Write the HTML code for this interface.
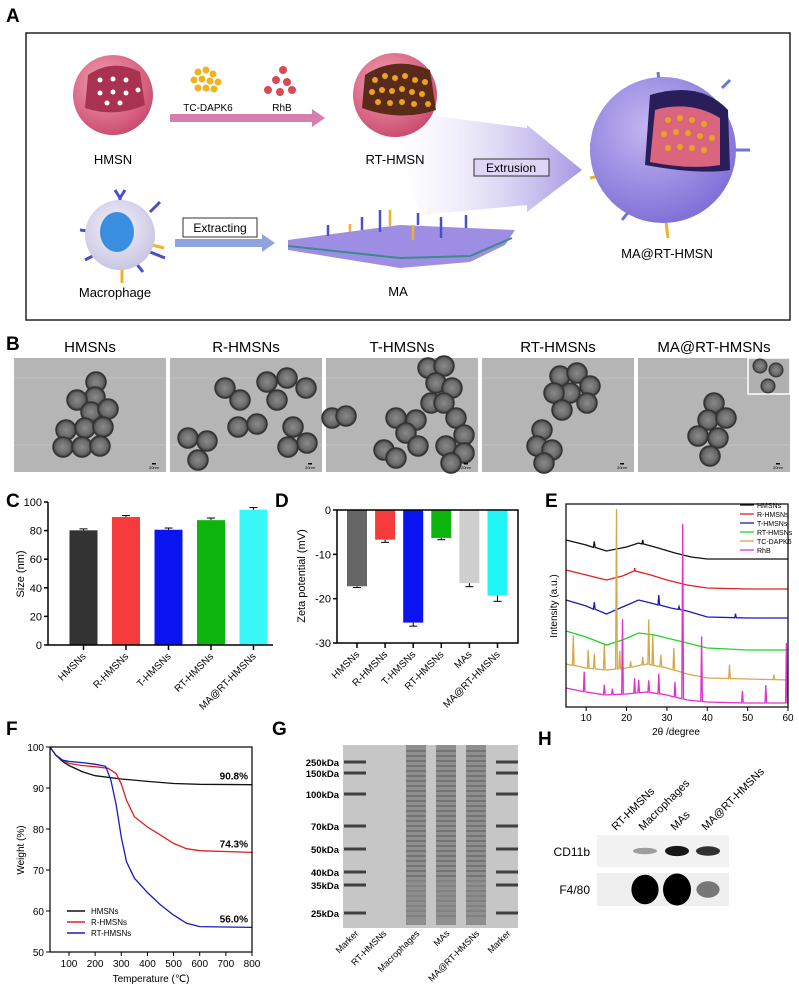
<!DOCTYPE html>
<html><head><meta charset="utf-8"><style>
html,body{margin:0;padding:0;background:#fff}
svg{display:block;font-family:"Liberation Sans",Arial,sans-serif}
</style></head><body>
<svg id="fig" width="799" height="999" viewBox="0 0 799 999" xmlns="http://www.w3.org/2000/svg">
<defs>
<radialGradient id="gPink" cx="0.4" cy="0.35" r="0.7"><stop offset="0" stop-color="#f4a3b6"/><stop offset="1" stop-color="#c9486b"/></radialGradient>
<radialGradient id="gPurp" cx="0.4" cy="0.35" r="0.7"><stop offset="0" stop-color="#c2b6f2"/><stop offset="1" stop-color="#7d6dd6"/></radialGradient>
<radialGradient id="gCell" cx="0.45" cy="0.4" r="0.6"><stop offset="0" stop-color="#f4f2fb"/><stop offset="1" stop-color="#c9c6e3"/></radialGradient>
<linearGradient id="gArrow" x1="0" y1="0" x2="1" y2="0"><stop offset="0" stop-color="#fff" stop-opacity="0.2"/><stop offset="1" stop-color="#a597e2"/></linearGradient>
<radialGradient id="gTem" cx="0.5" cy="0.5" r="0.5"><stop offset="0" stop-color="#8a8a8a"/><stop offset="0.7" stop-color="#6a6a6a"/><stop offset="1" stop-color="#3a3a3a"/></radialGradient>
</defs>

<!-- Panel A -->
<text x="6" y="22" font-size="19" font-weight="bold">A</text>
<rect x="26" y="33" width="764" height="287" fill="#fff" stroke="#222" stroke-width="1.5"/>
<g>
<circle cx="113" cy="95" r="40" fill="url(#gPink)"/>
<path d="M88,75 Q113,58 140,72 L145,105 Q115,118 85,108 Z" fill="#a8324f"/>
<g fill="#fff"><circle cx="100" cy="80" r="2.5"/><circle cx="113" cy="79" r="2.5"/><circle cx="126" cy="80" r="2.5"/><circle cx="100" cy="93" r="2.5"/><circle cx="113" cy="92" r="2.5"/><circle cx="126" cy="93" r="2.5"/><circle cx="138" cy="90" r="2.5"/><circle cx="107" cy="103" r="2.5"/><circle cx="120" cy="103" r="2.5"/></g>
</g>
<text x="113" y="164" font-size="13" text-anchor="middle">HMSN</text>
<g fill="#f0b21e"><circle cx="198" cy="72" r="3.5"/><circle cx="206" cy="70" r="3.5"/><circle cx="213" cy="74" r="3.5"/><circle cx="194" cy="80" r="3.5"/><circle cx="202" cy="79" r="3.5"/><circle cx="210" cy="81" r="3.5"/><circle cx="218" cy="82" r="3.5"/><circle cx="198" cy="88" r="3.5"/><circle cx="206" cy="88" r="3.5"/><circle cx="214" cy="89" r="3.5"/></g>
<text x="208" y="111" font-size="10" text-anchor="middle">TC-DAPK6</text>
<g fill="#d94a55"><circle cx="283" cy="70" r="4"/><circle cx="276" cy="80" r="4"/><circle cx="287" cy="82" r="4"/><circle cx="268" cy="90" r="4"/><circle cx="280" cy="92" r="4"/><circle cx="292" cy="90" r="4"/></g>
<text x="282" y="111" font-size="10" text-anchor="middle">RhB</text>
<path d="M170,114 L312,114 L312,109 L325,118 L312,127 L312,122 L170,122 Z" fill="#d57fae"/>
<polygon points="390,110 527,128 527,125 582,170 527,212 527,205 420,215" fill="url(#gArrow)"/>
<g>
<circle cx="395" cy="95" r="42" fill="url(#gPink)"/>
<path d="M365,75 Q395,55 430,70 L436,110 Q400,122 362,108 Z" fill="#5a2a1a"/>
<g fill="#e9a320"><circle cx="375" cy="80" r="3"/><circle cx="385" cy="76" r="3"/><circle cx="395" cy="78" r="3"/><circle cx="405" cy="76" r="3"/><circle cx="415" cy="80" r="3"/><circle cx="425" cy="82" r="3"/><circle cx="372" cy="92" r="3"/><circle cx="382" cy="90" r="3"/><circle cx="392" cy="91" r="3"/><circle cx="402" cy="89" r="3"/><circle cx="412" cy="92" r="3"/><circle cx="422" cy="94" r="3"/><circle cx="378" cy="102" r="3"/><circle cx="390" cy="103" r="3"/><circle cx="402" cy="102" r="3"/><circle cx="414" cy="104" r="3"/><circle cx="428" cy="104" r="3"/></g>
</g>
<text x="395" y="164" font-size="13" text-anchor="middle">RT-HMSN</text>
<rect x="474" y="159" width="75" height="17" fill="#ddd6f4" stroke="#333"/>
<text x="511" y="172" font-size="12" text-anchor="middle">Extrusion</text>
<g>
<g stroke="#4a4fc9" stroke-width="3" fill="none"><path d="M120,198 L120,212 M115,190 L120,198 L125,190"/><path d="M150,212 L160,202"/><path d="M80,230 L95,232"/><path d="M85,260 L100,252"/><path d="M145,250 L165,258"/><path d="M135,262 L143,272"/></g>
<g stroke="#f0b030" stroke-width="3"><path d="M122,268 L122,283"/><path d="M148,244 L164,248"/></g>
<circle cx="120" cy="235" r="35" fill="url(#gCell)"/>
<ellipse cx="117" cy="232" rx="17" ry="20" fill="#3a8ee0"/>
</g>
<text x="115" y="297" font-size="13" text-anchor="middle">Macrophage</text>
<rect x="183" y="218" width="74" height="19" fill="#fff" stroke="#333"/>
<text x="220" y="232" font-size="12" text-anchor="middle">Extracting</text>
<path d="M175,239 L262,239 L262,234 L275,243 L262,252 L262,247 L175,247 Z" fill="#8fa3dc"/>
<g>
<polygon points="288,240 400,225 515,230 505,245 470,262 400,268 288,250" fill="#9d8ee3"/>
<path d="M288,246 L400,258 L470,256 L512,238" stroke="#3c8a8a" stroke-width="2" fill="none"/>
<g stroke="#4a4fc9" stroke-width="2.5"><path d="M328,225 L328,236"/><path d="M362,217 L362,230"/><path d="M380,210 L380,232"/><path d="M418,213 L418,225"/><path d="M441,217 L441,238"/><path d="M466,215 L466,228"/></g>
<g stroke="#f0b030" stroke-width="2.5"><path d="M350,224 L350,232"/><path d="M390,210 L390,226"/><path d="M413,225 L413,240"/></g>
</g>
<text x="398" y="296" font-size="13" text-anchor="middle">MA</text>
<g>
<g stroke="#6b74d8" stroke-width="3"><path d="M658,72 L660,90"/><path d="M722,88 L730,80"/><path d="M735,150 L750,150"/><path d="M630,210 L622,220"/><path d="M600,145 L590,145"/></g>
<g stroke="#f0b030" stroke-width="3"><path d="M590,178 L605,175"/><path d="M666,222 L668,238"/></g>
<circle cx="663" cy="150" r="73" fill="url(#gPurp)"/>
<path d="M650,95 Q700,80 728,110 L730,170 Q700,175 645,165 Z" fill="#2a1e5a"/>
<path d="M655,110 Q690,100 720,118 L720,165 Q690,170 650,162 Z" fill="#d9657e"/>
<g fill="#e9a320"><circle cx="668" cy="120" r="3"/><circle cx="680" cy="118" r="3"/><circle cx="692" cy="120" r="3"/><circle cx="704" cy="124" r="3"/><circle cx="664" cy="134" r="3"/><circle cx="676" cy="132" r="3"/><circle cx="688" cy="133" r="3"/><circle cx="700" cy="136" r="3"/><circle cx="712" cy="138" r="3"/><circle cx="668" cy="148" r="3"/><circle cx="680" cy="147" r="3"/><circle cx="692" cy="148" r="3"/><circle cx="704" cy="150" r="3"/></g>
</g>
<text x="667" y="258" font-size="13" text-anchor="middle">MA@RT-HMSN</text>

<!-- Panel B -->
<text x="6" y="350" font-size="19" font-weight="bold">B</text>
<g id="panelB"></g>

<!-- Chart containers -->
<g id="chartC"></g><g id="chartD"></g><g id="chartE"></g><g id="chartF"></g><g id="chartG"></g><g id="chartH"></g>
</svg>
<script>
// ---------- Panel B data ----------
const bTitles=["HMSNs","R-HMSNs","T-HMSNs","RT-HMSNs","MA@RT-HMSNs"];
const bParticles=[
 [[82,24],[81,39],[63,42],[77,54],[94,51],[52,72],[71,70],[89,69],[49,89],[68,89],[86,88]],
 [[55,30],[70,42],[97,24],[117,20],[136,30],[107,42],[68,69],[87,66],[123,69],[137,85],[18,80],[37,83],[28,102],[118,89]],
 [[6,60],[20,58],[70,60],[90,62],[80,75],[92,88],[58,92],[70,100],[102,10],[118,8],[110,25],[126,30],[105,45],[118,45],[130,60],[138,77],[120,88],[138,95],[125,105]],
 [[78,18],[95,15],[108,28],[88,35],[72,35],[105,45],[80,52],[60,72],[55,88],[70,92],[62,105]],
 [[76,45],[70,62],[88,60],[60,78],[80,80],[72,98]]
];
const NS="http://www.w3.org/2000/svg";
function mk(parent,tag,attrs,txt){const e=document.createElementNS(NS,tag);for(const k in attrs)e.setAttribute(k,attrs[k]);if(txt!==undefined)e.textContent=txt;parent.appendChild(e);return e;}
const gB=document.getElementById('panelB');
const bX=[14,170,326,482,638];
bTitles.forEach((t,i)=>{
 const x0=bX[i];
 const title=mk(gB,'text',{x:x0+76,y:352,'font-size':15,'text-anchor':'middle'},t);
 
 
 const r=mk(gB,'rect',{x:x0,y:358,width:152,height:114,fill:'#b5b5b5'});
 
 
 mk(gB,'line',{x1:x0,x2:x0+152,y1:378,y2:378,stroke:'#c4c4c4','stroke-width':1});
 mk(gB,'line',{x1:x0,x2:x0+152,y1:445,y2:445,stroke:'#c4c4c4','stroke-width':1});
 bParticles[i].forEach(p=>{
  const c=mk(gB,'circle',{cx:x0+p[0],cy:358+p[1],r:10,fill:'url(#gTem)',stroke:'#333','stroke-width':1.5});
  
  
 });
 mk(gB,'text',{x:x0+140,y:469,'font-size':4,'text-anchor':'middle'},'20nm');
 mk(gB,'rect',{x:x0+138,y:463,width:4,height:1.5,fill:'#000'});
});
const inset=mk(gB,'rect',{x:748,y:358,width:42,height:36,fill:'#b0b0b0',stroke:'#fff','stroke-width':1.5});


[[760,366],[776,370],[768,386]].forEach(p=>mk(gB,'circle',{cx:p[0],cy:p[1],r:7,fill:'url(#gTem)',stroke:'#333'}));

// ---------- Chart C ----------
const cCats=["HMSNs","R-HMSNs","T-HMSNs","RT-HMSNs","MA@RT-HMSNs"];
const cVals=[80.2,89.5,80.6,87.3,94.6];
const cErr=[1.0,1.0,1.2,1.5,1.5];
const cColors=["#333333","#f53b3b","#0a14f0","#0cb40c","#39f7f7"];
const cTicks=[0,20,40,60,80,100];
const gC=document.getElementById('chartC');
const yC=v=>645-v*1.43;
const xC=i=>83.5+i*42.5;
mk(gC,'text',{x:6,y:507,'font-size':19,'font-weight':'bold'},'C');
cVals.forEach((v,i)=>{
 const b=mk(gC,'rect',{x:xC(i)-14,y:yC(v),width:28,height:yC(0)-yC(v),fill:cColors[i]});
 
 
 mk(gC,'line',{x1:xC(i),x2:xC(i),y1:yC(v),y2:yC(v+cErr[i]),stroke:'#000'});
 mk(gC,'line',{x1:xC(i)-4,x2:xC(i)+4,y1:yC(v+cErr[i]),y2:yC(v+cErr[i]),stroke:'#000'});
 mk(gC,'line',{x1:xC(i),x2:xC(i),y1:645,y2:650,stroke:'#000','stroke-width':1.5});
 const t=mk(gC,'text',{x:xC(i)+3,y:657,'font-size':10,'text-anchor':'end',transform:`rotate(-45 ${xC(i)+3} 657)`},cCats[i]);
 
 
});
mk(gC,'line',{x1:48,x2:48,y1:502,y2:645,stroke:'#000','stroke-width':1.5});
mk(gC,'line',{x1:48,x2:273,y1:645,y2:645,stroke:'#000','stroke-width':1.5});
cTicks.forEach(v=>{mk(gC,'line',{x1:44,x2:48,y1:yC(v),y2:yC(v),stroke:'#000','stroke-width':1.5});mk(gC,'text',{x:42,y:yC(v)+4,'font-size':11,'text-anchor':'end'},v);});
const ctl=mk(gC,'text',{x:24,y:574,'font-size':11,'text-anchor':'middle',transform:'rotate(-90 24 574)'},'Size (nm)');



// ---------- Chart D ----------
const dCats=["HMSNs","R-HMSNs","T-HMSNs","RT-HMSNs","MAs","MA@RT-HMSNs"];
const dVals=[-17.2,-6.7,-25.4,-6.3,-16.5,-19.3];
const dErr=[0.3,0.6,0.8,0.4,0.8,1.3];
const dColors=["#666666","#f53b3b","#0a14f0","#0cb40c","#cfcfcf","#20f5f5"];
const dTicks=[0,-10,-20,-30];
const gD=document.getElementById('chartD');
const yD=v=>510-v*(133/30);
const xD=i=>357+i*28.1;
mk(gD,'text',{x:275,y:507,'font-size':19,'font-weight':'bold'},'D');
dVals.forEach((v,i)=>{
 const b=mk(gD,'rect',{x:xD(i)-10,y:yD(0),width:20,height:yD(v)-yD(0),fill:dColors[i]});
 
 
 mk(gD,'line',{x1:xD(i),x2:xD(i),y1:yD(v),y2:yD(v-dErr[i]),stroke:'#000'});
 mk(gD,'line',{x1:xD(i)-4,x2:xD(i)+4,y1:yD(v-dErr[i]),y2:yD(v-dErr[i]),stroke:'#000'});
 mk(gD,'line',{x1:xD(i),x2:xD(i),y1:643,y2:648,stroke:'#000','stroke-width':1.5});
 const t=mk(gD,'text',{x:xD(i)+3,y:655,'font-size':10,'text-anchor':'end',transform:`rotate(-45 ${xD(i)+3} 655)`},dCats[i]);
 
 
});
mk(gD,'rect',{x:337,y:510,width:181,height:133,fill:'none',stroke:'#000','stroke-width':1.5});
dTicks.forEach(v=>{mk(gD,'line',{x1:333,x2:337,y1:yD(v),y2:yD(v),stroke:'#000','stroke-width':1.5});mk(gD,'text',{x:331,y:yD(v)+4,'font-size':11,'text-anchor':'end'},v);});
const dtl=mk(gD,'text',{x:305,y:576,'font-size':11,'text-anchor':'middle',transform:'rotate(-90 305 576)'},'Zeta potential (mV)');



// ---------- Chart E (XRD) ----------
const eNames=["HMSNs","R-HMSNs","T-HMSNs","RT-HMSNs","TC-DAPK6","RhB"];
const eColors=["#111111","#e02020","#1a1ab8","#22d422","#d6a84a","#e030d0"];
const eBlack=[[5,167],[10,162],[15,156],[20,160],[23,164],[27,160],[32,154],[36,150],[40,148],[50,148],[60,148]];
const eRed=[[5,137],[10,132],[15,127],[19,131],[22,136],[26,132],[30,127],[35,122],[40,119],[50,118],[60,118]];
const eBlue=[[5,107],[10,101],[15,93],[19,100],[23,107],[27,103],[31,99],[35,96],[40,90],[50,89],[60,89]];
const eGreen=[[5,76],[10,70],[15,62],[19,67],[23,74],[27,72],[30,69],[35,64],[40,59],[50,57],[60,57]];
const eOrange=[[5,43],[10,39],[15,37],[20,39],[25,43],[30,39],[35,33],[40,29],[50,28],[60,27]];
const eMagenta=[[5,19],[10,15],[15,12],[20,13],[25,15],[30,12],[35,7],[40,5],[50,4],[60,4]];
const eBlackPeaks=[[12,6],[24,4]];
const eRedPeaks=[[22,3]];
const eBluePeaks=[[12,7],[28,10],[33,3],[47,4]];
const eGreenPeaks=[];
const eOrangePeaks=[[6.8,30],[10.5,18],[12,15],[14.5,25],[17.5,160],[18.3,18],[21,6],[24,8],[25.5,45],[26.5,30],[28.5,12],[31.7,22],[45.5,14],[56.5,5]];
const eMagentaPeaks=[[9.5,20],[14.5,10],[16.5,6],[19,75],[22,15],[23,13],[25.5,12],[28,20],[32,15],[33.9,175],[38.6,65],[48.7,12],[54.5,18],[59.6,60]];
const eXTicks=[10,20,30,40,50,60];
const gE=document.getElementById('chartE');
const xE=t=>566+(t-5)*(222/55);
const yE=v=>707-v;
function baseAt(arr,t){for(let k=0;k<arr.length-1;k++){if(t>=arr[k][0]&&t<=arr[k+1][0]){const f=(t-arr[k][0])/(arr[k+1][0]-arr[k][0]);return arr[k][1]+f*(arr[k+1][1]-arr[k][1]);}}return arr[arr.length-1][1];}
mk(gE,'text',{x:545,y:507,'font-size':19,'font-weight':'bold'},'E');
const eBases=[eBlack,eRed,eBlue,eGreen,eOrange,eMagenta];
const ePeaks=[eBlackPeaks,eRedPeaks,eBluePeaks,eGreenPeaks,eOrangePeaks,eMagentaPeaks];
eBases.forEach((base,si)=>{
 let pts=base.map(p=>[p[0],p[1]]);
 ePeaks[si].forEach(pk=>{const b=baseAt(base,pk[0]);pts.push([pk[0]-0.2,b]);pts.push([pk[0],b+pk[1]]);pts.push([Math.min(60,pk[0]+0.2),b]);});
 pts.sort((a,b)=>a[0]-b[0]);
 const d=pts.map((p,k)=>(k?'L':'M')+xE(p[0]).toFixed(1)+','+yE(p[1]).toFixed(1)).join(' ');
 const path=mk(gE,'path',{d:d,fill:'none',stroke:eColors[si],'stroke-width':1.3});
 
 
});
mk(gE,'rect',{x:566,y:504,width:222,height:203,fill:'none',stroke:'#000','stroke-width':1.2});
eXTicks.forEach(t=>{mk(gE,'line',{x1:xE(t),x2:xE(t),y1:707,y2:711,stroke:'#000'});mk(gE,'text',{x:xE(t),y:721,'font-size':10,'text-anchor':'middle'},t);});
mk(gE,'text',{x:676,y:735,'font-size':10,'text-anchor':'middle'},'2θ /degree');
mk(gE,'text',{x:557,y:606,'font-size':10,'text-anchor':'middle',transform:'rotate(-90 557 606)'},'Intensity (a.u.)');
eNames.forEach((n,i)=>{
 const y=505+i*9;
 const l=mk(gE,'line',{x1:740,x2:754,y1:y,y2:y,stroke:eColors[i],'stroke-width':1.3});
 
 
 mk(gE,'text',{x:757,y:y+3,'font-size':7},n);
});

// ---------- Chart F (TGA) ----------
const fNames=["HMSNs","R-HMSNs","RT-HMSNs"];
const fColors=["#111111","#e02020","#1a1ab8"];
const fHMSN=[[27,100],[50,98],[75,96.5],[100,95.5],[150,94],[200,93],[300,92.2],[400,91.6],[500,91.1],[600,90.9],[800,90.8]];
const fR=[[27,100],[50,98],[75,96.8],[100,96],[150,95.5],[200,95.2],[250,94.8],[280,93.5],[300,91],[320,87],[350,83],[400,80.5],[450,78.5],[500,76.5],[550,75.2],[600,74.7],[800,74.3]];
const fRT=[[27,100],[50,98],[75,96.8],[100,96.5],[150,96.2],[200,95.8],[240,95.3],[260,92],[280,86],[300,78],[320,72],[350,68],[400,64.5],[450,61.5],[500,59],[550,57],[600,56.2],[800,56]];
const fFinal=["90.8%","74.3%","56.0%"];
const fYTicks=[50,60,70,80,90,100];
const fXTicks=[100,200,300,400,500,600,700,800];
const gF=document.getElementById('chartF');
const xF=t=>69+(t-100)*(183/700);
const yF=v=>747+(100-v)*4.1;
mk(gF,'text',{x:6,y:735,'font-size':19,'font-weight':'bold'},'F');
[fHMSN,fR,fRT].forEach((s,i)=>{
 const d=s.map((p,k)=>(k?'L':'M')+xF(p[0]).toFixed(1)+','+yF(p[1]).toFixed(1)).join(' ');
 const p=mk(gF,'path',{d:d,fill:'none',stroke:fColors[i],'stroke-width':1.3});
 
 
 const last=s[s.length-1];
 const t=mk(gF,'text',{x:248,y:yF(last[1])-5,'font-size':10,'font-weight':'bold','text-anchor':'end'},fFinal[i]);
 
 
});
mk(gF,'rect',{x:50,y:747,width:202,height:205,fill:'none',stroke:'#000','stroke-width':1.2});
fYTicks.forEach(v=>{mk(gF,'line',{x1:46,x2:50,y1:yF(v),y2:yF(v),stroke:'#000'});mk(gF,'text',{x:44,y:yF(v)+4,'font-size':10,'text-anchor':'end'},v);});
fXTicks.forEach(t=>{mk(gF,'line',{x1:xF(t),x2:xF(t),y1:952,y2:956,stroke:'#000'});mk(gF,'text',{x:xF(t),y:967,'font-size':10,'text-anchor':'middle'},t);});
mk(gF,'text',{x:151,y:982,'font-size':10,'text-anchor':'middle'},'Temperature (℃)');
mk(gF,'text',{x:24,y:850,'font-size':10,'text-anchor':'middle',transform:'rotate(-90 24 850)'},'Weight (%)');
fNames.forEach((n,i)=>{
 const y=911+i*11;
 const l=mk(gF,'line',{x1:67,x2:85,y1:y,y2:y,stroke:fColors[i],'stroke-width':1.5});
 
 
 mk(gF,'text',{x:91,y:y+3,'font-size':8},n);
});

// ---------- Panel G (gel) ----------
const gLanes=["Marker","RT-HMSNs","Macrophages","MAs","MA@RT-HMSNs","Marker"];
const gMarkers=["250kDa","150kDa","100kDa","70kDa","50kDa","40kDa","35kDa","25kDa"];
const gMarkerY=[762,773,794,826,849,872,885,913];
const gG=document.getElementById('chartG');
const laneX=[355,383,416,446,476,507];
mk(gG,'text',{x:272,y:735,'font-size':19,'font-weight':'bold'},'G');
mk(gG,'rect',{x:343,y:745,width:175,height:183,fill:'#c6c6c6'});
[416,446,476].forEach(x=>{
 const r=mk(gG,'rect',{x:x-10,y:745,width:20,height:180,fill:'#8e8e8e'});
 
 
 for(let y=750;y<920;y+=5){mk(gG,'rect',{x:x-10,y:y,width:20,height:2,fill:'#6a6a6a',opacity:(y<880?0.7:0.35)});}
});
gMarkers.forEach((m,i)=>{
 const t=mk(gG,'text',{x:339,y:gMarkerY[i]+4,'font-size':9.5,'font-weight':'bold','text-anchor':'end'},m);
 
 
 [355,507].forEach(x=>mk(gG,'rect',{x:x-11,y:gMarkerY[i]-1.5,width:22,height:3,fill:'#404040'}));
});
gLanes.forEach((n,i)=>{
 const x=laneX[i];
 const t=mk(gG,'text',{x:x+4,y:934,'font-size':9,'text-anchor':'end',transform:`rotate(-45 ${x+4} 934)`},n);
 
 
});

// ---------- Panel H (western blot) ----------
const hLanes=["RT-HMSNs","Macrophages","MAs","MA@RT-HMSNs"];
const hCD11b=[0,0.35,0.9,0.8];
const hF480=[0,0.9,1.0,0.4];
const gH=document.getElementById('chartH');
const hX=[618,645,677,708];
mk(gH,'text',{x:538,y:745,'font-size':19,'font-weight':'bold'},'H');
mk(gH,'rect',{x:597,y:835,width:132,height:32,fill:'#f2f2f2'});
mk(gH,'rect',{x:597,y:873,width:132,height:33,fill:'#efefef'});
mk(gH,'text',{x:590,y:856,'font-size':12,'text-anchor':'end'},'CD11b');
mk(gH,'text',{x:590,y:894,'font-size':12,'text-anchor':'end'},'F4/80');
hLanes.forEach((n,i)=>{
 const x=hX[i];
 if(hCD11b[i]>0){const b=mk(gH,'ellipse',{cx:x,cy:851,rx:12,ry:2+hCD11b[i]*3.5,fill:'#000',opacity:hCD11b[i]});}
 if(hF480[i]>0){const b=mk(gH,'ellipse',{cx:x,cy:889.5,rx:10+hF480[i]*4,ry:3+hF480[i]*13,fill:'#000',opacity:Math.min(1,hF480[i]+0.1)});}
 const t=mk(gH,'text',{x:x-2,y:831,'font-size':11,transform:`rotate(-45 ${x-2} 831)`},n);
 
 
});
</script>
</body></html>
